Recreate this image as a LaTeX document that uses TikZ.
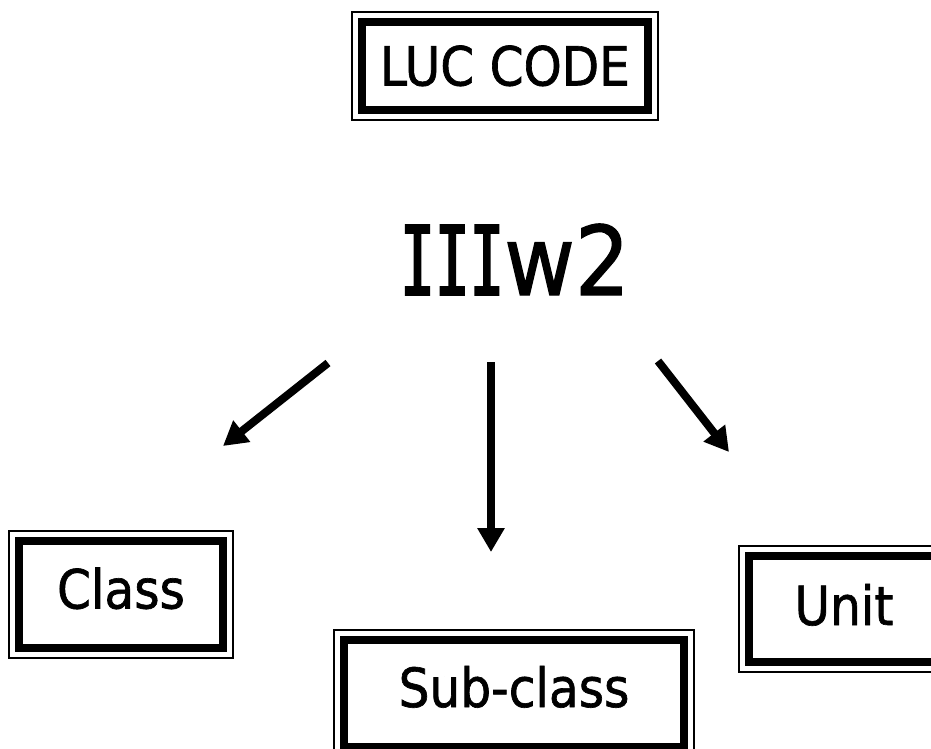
\documentclass[tikz,border=0pt]{standalone}
\usepackage{fontspec}
\setmainfont{DejaVu Sans}[FakeStretch=0.9,FakeBold=1.2]
% slab-serif capital I for the code label
\newfontfamily\slabI{DejaVu Sans Mono}[FakeStretch=0.6,FakeBold=2]
\usetikzlibrary{arrows.meta}

\tikzset{
  framed/.style={draw, rectangle, line width=8pt, inner sep=0pt, outer sep=0pt,
    font=\fontsize{54}{60}\selectfont, text height=39pt},
  outerline/.style={line width=1.5pt},
  arrowline/.style={line width=8pt, -{Triangle[length=24pt,width=26pt]}},
}
% thin rule drawn around a framed box
\newcommand\outerframe[1]{%
  \draw[outerline] ([shift={(-10,-10)}]#1.north west) rectangle ([shift={(10,10)}]#1.south east);}

\begin{document}
\begin{tikzpicture}[x=1pt,y=-1pt]
  \useasboundingbox (0,0) rectangle (931,749);
  \clip (0,0) rectangle (931,749);

  % header box
  \node[framed, minimum width=286pt, minimum height=88pt, text depth=0pt]
    (luc) at (505,66) {LUC CODE};
  \outerframe{luc}

  % code
  \node[anchor=base west, inner sep=0pt, font=\fontsize{96}{100}\selectfont]
    (code) at (400,295) {{\slabI III}w2};

  % category boxes
  \node[framed, minimum width=204pt, minimum height=107pt, text depth=11pt]
    (class) at (121,594.5) {Class};
  \outerframe{class}

  \node[framed, minimum width=340pt, minimum height=107pt, text depth=12pt]
    (sub) at (514,693.5) {Sub-class};
  \outerframe{sub}

  \node[framed, minimum width=190pt, minimum height=106pt, text depth=7pt]
    (unit) at (844,609) {Unit};
  \outerframe{unit}

  % arrow ends
  \coordinate (l0) at (328,363);
  \coordinate (l1) at (223,446);
  \coordinate (m0) at (491,362);
  \coordinate (m1) at (491,552);
  \coordinate (r0) at (658,361);
  \coordinate (r1) at (729,452);

  \draw[arrowline] (l0) -- (l1);
  \draw[arrowline] (m0) -- (m1);
  \draw[arrowline] (r0) -- (r1);
\end{tikzpicture}
\end{document}
